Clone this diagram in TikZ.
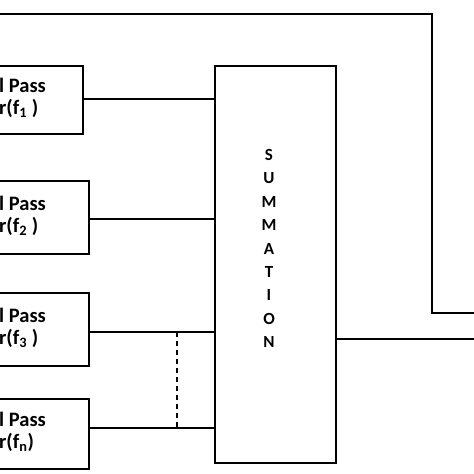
\documentclass[tikz,border=0pt]{standalone}
\usepackage{fontspec}
\setmainfont{Carlito}
\begin{document}
\begin{tikzpicture}[x=1pt,y=-1pt,
  wire/.style={line width=2pt},
  filterbox/.style={draw,line width=2.2pt,rectangle,inner sep=0pt},
  flabel/.style={anchor=west,align=left,inner sep=0pt,font=\fontsize{20.5}{22}\selectfont\bfseries},
  sumbox/.style={draw,line width=2.2pt,rectangle,inner sep=0pt,minimum width=121pt,minimum height=397pt},
  sumlabel/.style={align=center,inner sep=0pt,font=\fontsize{17}{23.4}\selectfont\bfseries}]
\useasboundingbox (0,0) rectangle (474,474);
\clip (0,0) rectangle (474,474);
\fill[white] (0,0) rectangle (474,474);
% filter boxes (left part cut off by the frame)
\node[filterbox,minimum width=113pt,minimum height=68pt] (f1) at (26.5,100) {};
\node[filterbox,minimum width=119pt,minimum height=73pt] (f2) at (29.5,217.5) {};
\node[filterbox,minimum width=119pt,minimum height=73pt] (f3) at (29.5,329.5) {};
\node[filterbox,minimum width=119pt,minimum height=70pt] (f4) at (29.5,434) {};
\node[flabel] (t1) at (-1,98) {l Pass\\r(f\textsubscript{1} )};
\node[flabel] (t2) at (-1,215.5) {l Pass\\r(f\textsubscript{2} )};
\node[flabel] (t3) at (-1,327.5) {l Pass\\r(f\textsubscript{3} )};
\node[flabel] (t4) at (-1,432) {l Pass\\r(f\textsubscript{n})};
% summation block
\node[sumbox] (sum) at (275.5,264.5) {};
\node[sumlabel] (st) at (269,248.5) {S\\U\\M\\M\\A\\T\\I\\O\\N};
% connectors
\coordinate (c1) at (0,99);
\coordinate (c2) at (0,219);
\coordinate (c3) at (0,332);
\coordinate (c4) at (0,428);
\draw[wire] (f1.east |- c1) -- (c1 -| sum.west);
\draw[wire] (f2.east |- c2) -- (c2 -| sum.west);
\draw[wire] (f3.east |- c3) -- (c3 -| sum.west);
\draw[wire] (f4.east |- c4) -- (c4 -| sum.west);
\coordinate (d1) at (177,332);
\coordinate (d2) at (177,428);
\draw[line width=2pt,dash pattern=on 5pt off 4pt] (d1) -- (d2);
% output and feedback lines
\coordinate (out) at (476,339);
\draw[wire] (sum.east |- out) -- (out);
\coordinate (fbs) at (-2,14);
\coordinate (fbc1) at (432,14);
\coordinate (fbc2) at (432,313);
\coordinate (fbe) at (476,313);
\draw[wire] (fbs) -- (fbc1) -- (fbc2) -- (fbe);
\end{tikzpicture}
\end{document}
